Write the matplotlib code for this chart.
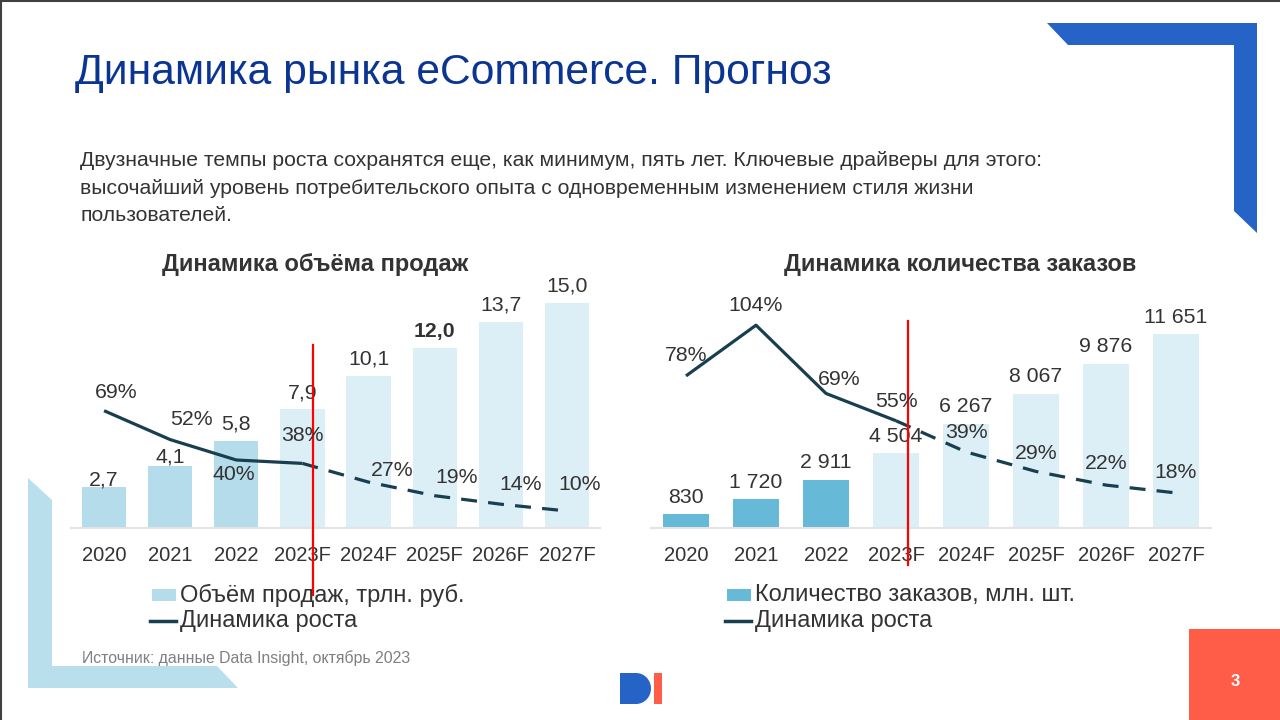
import matplotlib
matplotlib.use('Agg')
import matplotlib.pyplot as plt
from matplotlib.patches import Polygon, Rectangle, Ellipse

plt.rcParams['font.family'] = ['Liberation Sans', 'DejaVu Sans']

# данные
years = ['2020', '2021', '2022', '2023F', '2024F', '2025F', '2026F', '2027F']
n_fact = 3  # первые три года - факт

sales = [2.7, 4.1, 5.8, 7.9, 10.1, 12.0, 13.7, 15.0]
sales_growth = [69, 52, 40, 38, 27, 19, 14, 10]

orders = [830, 1720, 2911, 4504, 6267, 8067, 9876, 11651]
orders_growth = [78, 104, 69, 55, 39, 29, 22, 18]

title = 'Динамика рынка eCommerce. Прогноз'
subtitle = ('Двузначные темпы роста сохранятся еще, как минимум, пять лет. Ключевые драйверы для этого:\n'
            'высочайший уровень потребительского опыта с одновременным изменением стиля жизни\n'
            'пользователей.')
source = 'Источник: данные Data Insight, октябрь 2023'

# цвета
blue_dark = '#2563C7'
light_fact = '#B4DCEA'
mid_fact = '#67B9D8'
light_fc = '#DCEEF6'
line_col = '#173F4F'
text_col = '#333333'
red = '#FF0000'
coral = '#FF5D47'

W, H = 1280, 720
fig = plt.figure(figsize=(12.8, 7.2), dpi=100)

# фон в пикселях
bg = fig.add_axes([0, 0, 1, 1], zorder=0)
bg.set_xlim(0, W)
bg.set_ylim(H, 0)
bg.axis('off')

bg.add_patch(Polygon([(1047, 23), (1257, 23), (1257, 233), (1234, 211), (1234, 45), (1068, 45)],
                     closed=True, color=blue_dark, lw=0))
bg.add_patch(Polygon([(28, 478), (52, 500), (52, 666), (217, 666), (238, 688), (28, 688)],
                     closed=True, color='#B9DFED', lw=0))
bg.plot([0, W], [0.5, 0.5], color='#404040', lw=1.5)
bg.plot([0.5, 0.5], [0, H], color='#404040', lw=1.5)

# логотип
bg.add_patch(Rectangle((620, 673), 16, 31, color=blue_dark, lw=0))
bg.add_patch(Ellipse((636, 688.5), 30, 31, color=blue_dark, lw=0))
bg.add_patch(Rectangle((654, 673), 8, 31, color=coral, lw=0))

# номер слайда
bg.add_patch(Rectangle((1189, 629), 91, 91, color=coral, lw=0))
bg.text(1235, 682, '3', color='white', fontsize=12, fontweight='bold', ha='center', va='center')

bg.text(75, 73, title, color='#0B3592', fontsize=30.7, ha='left', va='center')
bg.text(80, 188, subtitle, color=text_col, fontsize=15.2, ha='left', va='center', linespacing=1.58)
bg.text(82, 658, source, color='#808080', fontsize=11.4, ha='left', va='center')

bg.text(315, 265, 'Динамика объёма продаж', color=text_col, fontsize=17,
        fontweight='bold', ha='center', va='center')
bg.text(960, 265, 'Динамика количества заказов', color=text_col, fontsize=17,
        fontweight='bold', ha='center', va='center')


def px_axes(x0, x1, top, bottom):
    return fig.add_axes([x0 / W, 1 - bottom / H, (x1 - x0) / W, (bottom - top) / H], zorder=2)


def draw_chart(ax, values, growth, fact_color, px_per_unit, px_per_pct, fmt,
               bar_offsets, pct_offsets, bold_idx, red_x, red_y, legend_label, leg_x):
    h = 238
    ax.set_facecolor('none')
    x = list(range(len(years)))
    colors = [fact_color if i < n_fact else light_fc for i in x]
    ax.bar(x, values, width=0.67, color=colors, zorder=1)
    ax.set_xlim(-0.5, len(years) - 0.5)
    ax.set_ylim(0, h / px_per_unit)
    for s in ['top', 'right', 'left']:
        ax.spines[s].set_visible(False)
    ax.spines['bottom'].set_color('#E3E3E3')
    ax.spines['bottom'].set_linewidth(1.5)
    ax.set_yticks([])
    ax.set_xticks(x)
    ax.set_xticklabels(years, fontsize=14.5, color=text_col)
    ax.tick_params(axis='x', length=0, pad=13)

    for i, v in enumerate(values):
        ax.annotate(fmt(v), (i, v), xytext=(0, bar_offsets[i]), textcoords='offset pixels',
                    ha='center', va='center', fontsize=15.3, color=text_col,
                    fontweight='bold' if i == bold_idx else 'normal')

    ax2 = ax.twinx()
    ax2.set_ylim(0, h / px_per_pct)
    ax2.axis('off')
    ax2.plot(x[:4], growth[:4], color=line_col, lw=2.3, solid_capstyle='butt')
    ax2.plot(x[3:], growth[3:], color=line_col, lw=2.3, linestyle=(0, (5, 3.5)))
    for i, g in enumerate(growth):
        dx, dy = pct_offsets[i]
        ax2.annotate(f'{g}%', (i, g), xytext=(dx, dy), textcoords='offset pixels',
                     ha='center', va='center', fontsize=15.3, color=text_col)

    ax2.axvline(red_x, ymin=red_y[0] / h, ymax=red_y[1] / h, color=red, lw=1.6, clip_on=False)

    # легенда
    bg.add_patch(Rectangle((leg_x, 589), 24, 12, color=fact_color, lw=0))
    bg.text(leg_x + 28, 595, legend_label, fontsize=17, color=text_col, va='center')
    bg.plot([leg_x - 2, leg_x + 24], [621, 621], color=line_col, lw=2.5)
    bg.text(leg_x + 28, 621, 'Динамика роста', fontsize=17, color=text_col, va='center')


def fmt_sales(v):
    return f'{v:.1f}'.replace('.', ',')


def fmt_orders(v):
    return f'{v:,}'.replace(',', ' ')


ax_l = px_axes(71, 600, 290, 528)
draw_chart(ax_l, sales, sales_growth, light_fact, 15.02, 1.70, fmt_sales,
           [7, 9, 17, 16, 17, 16, 17, 17],
           [(12, 18), (21, 20), (-3, -14), (0, 28), (24, 12), (22, 18), (20, 20), (13, 26)],
           5, 3.16, (-67, 183), 'Объём продаж, трлн. руб.', 152)

ax_r = px_axes(651, 1211, 290, 528)
draw_chart(ax_r, orders, orders_growth, mid_fact, 0.01665, 1.95, fmt_orders,
           [17] * 8,
           [(0, 20), (0, 20), (13, 14), (0, 19), (0, 19), (0, 18), (0, 22), (0, 20)],
           None, 3.17, (-37, 207), 'Количество заказов, млн. шт.', 727)

fig.savefig('out.png', dpi=100)
